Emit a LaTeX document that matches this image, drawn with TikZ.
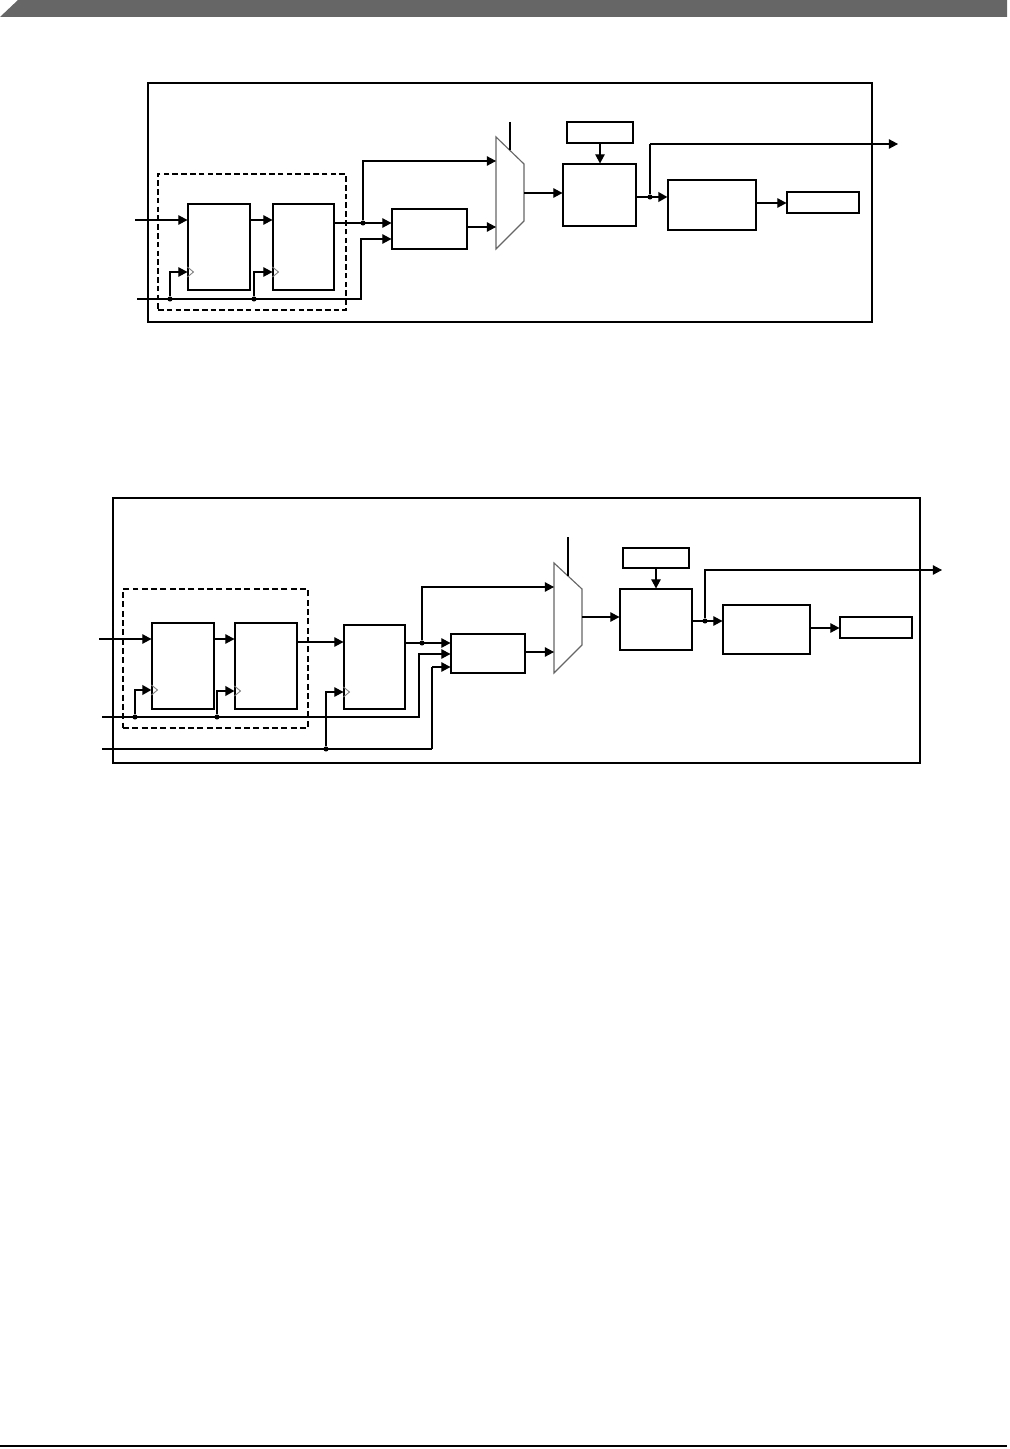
\documentclass[tikz,border=0pt]{standalone}
\usetikzlibrary{arrows.meta,fit}
\begin{document}
\begin{tikzpicture}[x=0.02cm,y=-0.02cm]
    % Styles
    \tikzset{
      blk/.style={draw,line width=0.6pt,inner sep=0pt},
      grpa/.style={draw,line width=0.7pt,inner sep=0pt,dash pattern=on 3.2pt off 1.8pt},
      grpb/.style={draw,line width=1.1pt,inner sep=0pt,dash pattern=on 3.4pt off 1.9pt},
      sig/.style={line width=0.6pt,-{Triangle[length=5.2pt,width=5.4pt]}},
      wire/.style={line width=0.6pt},
      bus/.style={line width=1.4pt},
      jdot/.style={circle,fill,inner sep=0pt,minimum size=2.9pt},
      muxline/.style={draw=black!60,line width=0.65pt},
      clktri/.pic={\draw[black!50,line width=0.5pt] (0,-5) -- (6,0) -- (0,5);}
    }
    \useasboundingbox (0,0) rectangle (1009,1449);

    % --- Page header bar and footer rule ---
    \fill[black!60] (0,17) -- (18,0) -- (1007,0) -- (1007,17) -- cycle;
    \draw[line width=1.1pt] (0,1446) -- (1007,1446);

    % ================= Upper diagram =================
    \node[blk, fit={(148,83) (872,322)}] (sysa) {};
    \node[grpa, fit={(158,174) (346,310)}] (grpa) {};

    % --- Blocks ---
    \node[blk, fit={(188,204) (250,290)}] (ffa1) {};
    \node[blk, fit={(273,204) (334,290)}] (ffa2) {};
    \node[blk, fit={(392,209) (467,249)}] (cmpa) {};
    \node[blk, fit={(563,164) (636,226)}] (rega) {};
    \node[blk, fit={(567,122) (633,143)}] (cfga) {};
    \node[blk, fit={(668,180) (756,230)}] (fila) {};
    \node[blk, fit={(787,192) (859,213)}] (outa) {};

    % --- Multiplexer ---
    \coordinate (mxa1) at (496,137);
    \coordinate (mxa2) at (524,164);
    \coordinate (mxa3) at (524,221);
    \coordinate (mxa4) at (496,249);
    \draw[muxline] (mxa1) -- (mxa2) -- (mxa3) -- (mxa4) -- cycle;

    % --- Free ends ---
    \coordinate (dina) at (135,220);
    \coordinate (clka) at (137,299);
    \coordinate (sela) at (510,122);
    \coordinate (tapa) at (898,144);

    % --- Synchroniser chain ---
    \draw[sig] (dina) -- (ffa1.west |- dina);
    \draw[sig] (ffa1.east |- dina) -- (ffa2.west |- dina);
    \draw[sig] (ffa2.east |- 0,223) -- (cmpa.west |- 0,223);
    \node[jdot] (ja) at (363,223) {};
    \draw[sig] (ja) |- (mxa1 |- 0,161);

    % --- Clock line ---
    \draw[sig] (clka) -| (361,239) -- (cmpa.west |- 0,239);
    \node[jdot] (ca1) at (170,299) {};
    \node[jdot] (ca2) at (254,299) {};
    \draw[sig] (ca1) |- (ffa1.west |- 0,272);
    \draw[sig] (ca2) |- (ffa2.west |- 0,272);
    \pic at (ffa1.west |- 0,272) {clktri};
    \pic at (ffa2.west |- 0,272) {clktri};

    % --- Mux and output path ---
    \draw[sig] (cmpa.east |- 0,227) -- (mxa1 |- 0,227);
    \draw[wire] (sela) -- (510,150);
    \draw[sig] (mxa2 |- 0,193) -- (rega.west |- 0,193);
    \draw[sig] (cfga.south) -- (cfga.south |- rega.north);
    \draw[bus,-{Triangle[length=5.2pt,width=5.4pt]}] (rega.east |- 0,197) -- (fila.west |- 0,197);
    \node[jdot] (jb) at (650,197) {};
    \draw[bus] (jb) -- (650,144);
    \draw[sig] (650,144) -- (tapa);
    \draw[sig] (fila.east |- 0,203) -- (outa.west |- 0,203);

    % ================= Lower diagram =================
    \node[blk, fit={(113,498) (920,763)}] (sysb) {};
    \node[grpb, fit={(123,589) (308,728)}] (grpb) {};

    % --- Blocks ---
    \node[blk, fit={(152,623) (214,709)}] (ffb1) {};
    \node[blk, fit={(235,623) (297,709)}] (ffb2) {};
    \node[blk, fit={(344,625) (405,709)}] (ffb3) {};
    \node[blk, fit={(451,634) (525,673)}] (cmpb) {};
    \node[blk, fit={(620,589) (692,650)}] (regb) {};
    \node[blk, fit={(623,548) (689,568)}] (cfgb) {};
    \node[blk, fit={(723,605) (810,654)}] (filb) {};
    \node[blk, fit={(840,617) (912,638)}] (outb) {};

    % --- Multiplexer ---
    \coordinate (mxb1) at (554,563);
    \coordinate (mxb2) at (582,589);
    \coordinate (mxb3) at (582,645);
    \coordinate (mxb4) at (554,673);
    \draw[muxline] (mxb1) -- (mxb2) -- (mxb3) -- (mxb4) -- cycle;

    % --- Free ends ---
    \coordinate (dinb) at (99,639);
    \coordinate (clkb1) at (102,717);
    \coordinate (clkb2) at (102,749);
    \coordinate (selb) at (568,537);
    \coordinate (tapb) at (942,570);

    % --- Synchroniser chain ---
    \draw[sig] (dinb) -- (ffb1.west |- dinb);
    \draw[sig] (ffb1.east |- dinb) -- (ffb2.west |- dinb);
    \draw[sig] (ffb2.east |- 0,642) -- (ffb3.west |- 0,642);
    \draw[sig] (ffb3.east |- 0,643) -- (cmpb.west |- 0,643);
    \node[jdot] (jc) at (422,643) {};
    \draw[sig] (jc) |- (mxb1 |- 0,587);

    % --- Clock lines ---
    \draw[sig] (clkb1) -| (419,654) -- (cmpb.west |- 0,654);
    \draw[wire] (clkb2) -- (432,749);
    \draw[bus] (432,749) -- (432,667);
    \draw[sig] (432,667) -- (cmpb.west |- 0,667);
    \node[jdot] (cb1) at (135,717) {};
    \node[jdot] (cb2) at (217,717) {};
    \node[jdot] (cb3) at (326,749) {};
    \draw[bus,-{Triangle[length=5.2pt,width=5.4pt]}] (cb1) |- (ffb1.west |- 0,690);
    \draw[bus,-{Triangle[length=5.2pt,width=5.4pt]}] (cb2) |- (ffb2.west |- 0,691);
    \draw[sig] (cb3) |- (ffb3.west |- 0,692);
    \pic at (ffb1.west |- 0,690) {clktri};
    \pic at (ffb2.west |- 0,691) {clktri};
    \pic at (ffb3.west |- 0,692) {clktri};

    % --- Mux and output path ---
    \draw[sig] (cmpb.east |- 0,652) -- (mxb1 |- 0,652);
    \draw[wire] (selb) -- (568,576);
    \draw[sig] (mxb2 |- 0,617) -- (regb.west |- 0,617);
    \draw[sig] (cfgb.south) -- (cfgb.south |- regb.north);
    \draw[sig] (regb.east |- 0,621) -- (filb.west |- 0,621);
    \node[jdot] (jd) at (705,621) {};
    \draw[sig] (jd) |- (tapb);
    \draw[sig] (filb.east |- 0,628) -- (outb.west |- 0,628);

\end{tikzpicture}
\end{document}
